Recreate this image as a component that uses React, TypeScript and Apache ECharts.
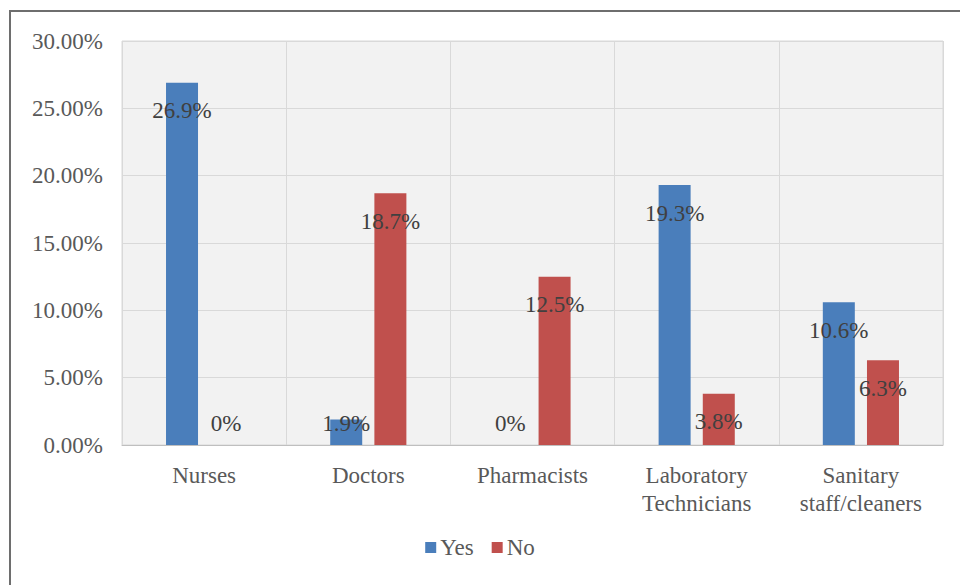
import React, { useEffect, useRef } from "react";
import * as echarts from "echarts";

// Share of respondents per staff group, in percent
const categories = [
  "Nurses",
  "Doctors",
  "Pharmacists",
  "Laboratory\nTechnicians",
  "Sanitary\nstaff/cleaners",
];
const yesValues = [26.9, 1.9, 0, 19.3, 10.6];
const noValues = [0, 18.7, 12.5, 3.8, 6.3];
const seriesNames = ["Yes", "No"];

const FONT = "'Liberation Serif', 'Times New Roman', serif";
const TEXT = "#595959";
const FS = 23;

export default function App() {
  const ref = useRef<HTMLDivElement>(null);

  useEffect(() => {
    if (!ref.current) return;
    const chart = echarts.init(ref.current, undefined, { renderer: "svg" });

    const barLabel = {
      show: true,
      position: "inside" as const,
      fontFamily: FONT,
      fontSize: FS,
      color: "#404040",
      formatter: (p: any) => `${p.value}%`,
    };

    chart.setOption({
      animation: false,
      backgroundColor: "#ffffff",
      textStyle: { fontFamily: FONT },
      graphic: [
        {
          type: "rect",
          shape: { x: 10, y: 11, width: 1000, height: 1000 },
          style: { fill: "none", stroke: "#6e6e6e", lineWidth: 2 },
          silent: true,
        },
      ],
      grid: {
        left: 122,
        right: 17,
        top: 41,
        bottom: 140,
        show: true,
        backgroundColor: "#f2f2f2",
        borderColor: "#d9d9d9",
        borderWidth: 1,
      },
      legend: {
        bottom: 21,
        left: "center",
        itemWidth: 11,
        itemHeight: 11,
        itemGap: 18,
        icon: "rect",
        textStyle: { fontFamily: FONT, fontSize: FS, color: TEXT, padding: [0, 0, 0, -1] },
        data: seriesNames,
      },
      xAxis: {
        type: "category",
        data: categories,
        axisTick: { show: false },
        axisLine: { show: true, lineStyle: { color: "#bfbfbf", width: 1 } },
        axisLabel: {
          fontFamily: FONT,
          fontSize: FS,
          color: TEXT,
          margin: 16,
          lineHeight: 28,
          interval: 0,
        },
        splitLine: { show: true, lineStyle: { color: "#d9d9d9", width: 1 } },
      },
      yAxis: {
        type: "value",
        min: 0,
        max: 30,
        interval: 5,
        axisLine: { show: false },
        axisTick: { show: false },
        axisLabel: {
          fontFamily: FONT,
          fontSize: FS,
          color: TEXT,
          margin: 19,
          formatter: (v: number) => `${v.toFixed(2)}%`,
        },
        splitLine: { show: true, lineStyle: { color: "#d9d9d9", width: 1 } },
      },
      series: [
        {
          name: seriesNames[0],
          type: "bar",
          data: yesValues,
          barWidth: 32,
          barGap: "38%",
          itemStyle: { color: "#4a7ebb" },
          label: barLabel,
        },
        {
          name: seriesNames[1],
          type: "bar",
          data: noValues,
          barWidth: 32,
          itemStyle: { color: "#c0504d" },
          label: barLabel,
        },
      ],
      // Value labels sit a little below each bar top, but never lower than just above the axis
      labelLayout: (p: any) => {
        const r = p.rect;
        return {
          x: r.x + r.width / 2,
          y: Math.min(r.y + 28, r.y + r.height - 22),
          align: "center",
          verticalAlign: "middle",
        };
      },
    });

    return () => chart.dispose();
  }, []);

  return (
    <div
      ref={ref}
      style={{ position: "absolute", left: 0, top: 0, width: 960, height: 585 }}
    />
  );
}
